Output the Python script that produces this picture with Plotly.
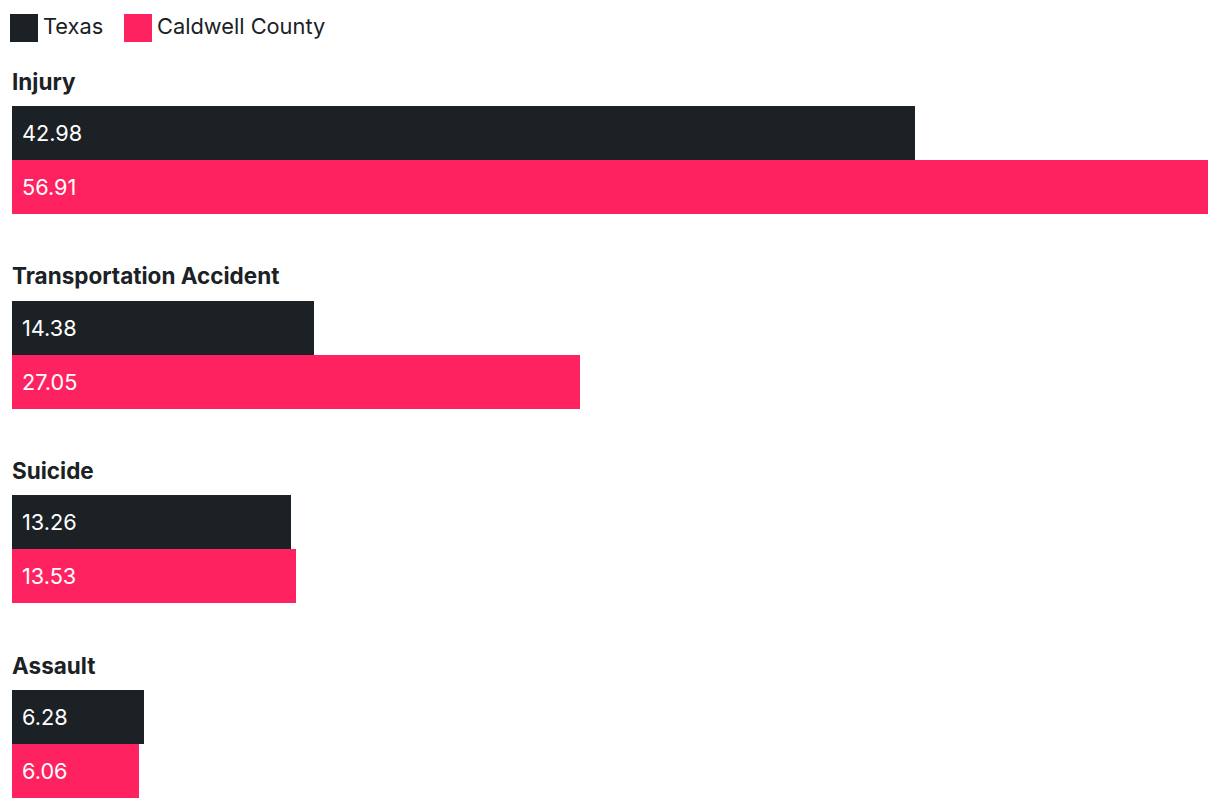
import plotly.graph_objects as go

categories = ["Injury", "Transportation Accident", "Suicide", "Assault"]
texas = [42.98, 14.38, 13.26, 6.28]
caldwell = [56.91, 27.05, 13.53, 6.06]
series_names = ["Texas", "Caldwell County"]
colors = ["#1b2125", "#ff2261"]

W, H = 1220, 808
ML, MR = 12, 12
first_top = 106
spacing = 194.67
bar_h = 54
xmax = max(max(texas), max(caldwell))

def px2paper(px):
    return (px - ML) / (W - ML - MR)

fig = go.Figure()
tex_y, cal_y = [], []
for i in range(len(categories)):
    top = first_top + i * spacing
    tex_y.append(top + bar_h / 2)
    cal_y.append(top + bar_h * 1.5)

for vals, ys, name, col in [(texas, tex_y, series_names[0], colors[0]),
                            (caldwell, cal_y, series_names[1], colors[1])]:
    fig.add_trace(go.Bar(x=vals, y=ys, orientation="h", width=bar_h,
                         marker=dict(color=col, line=dict(width=0)),
                         name=name, showlegend=False, hoverinfo="x+name"))

annotations = []
for i, cat in enumerate(categories):
    top = first_top + i * spacing
    annotations.append(dict(x=0, y=top - 25, xref="x", yref="y", text="<b>%s</b>" % cat,
                            showarrow=False, xanchor="left", yanchor="middle", xshift=-2,
                            font=dict(family="Inter", size=22.5, color="#1b2125")))
    for vals, ys in [(texas, tex_y), (caldwell, cal_y)]:
        annotations.append(dict(x=0, y=ys[i], xref="x", yref="y", text="%.2f" % vals[i],
                                showarrow=False, xanchor="left", yanchor="middle", xshift=8,
                                font=dict(family="Inter", size=21.7, color="#ffffff")))

shapes = []
legend_x = [10, 124]
for lx, name, col in zip(legend_x, series_names, colors):
    shapes.append(dict(type="rect", xref="paper", yref="y",
                       x0=px2paper(lx), x1=px2paper(lx + 28), y0=14, y1=42,
                       fillcolor=col, line=dict(width=0)))
    annotations.append(dict(x=px2paper(lx + 31), y=26, xref="paper", yref="y", text=name,
                            showarrow=False, xanchor="left", yanchor="middle",
                            font=dict(family="Inter", size=21.8, color="#1b2125")))

fig.update_layout(
    width=W, height=H,
    margin=dict(l=ML, r=MR, t=0, b=0, pad=0),
    paper_bgcolor="white", plot_bgcolor="white",
    xaxis=dict(range=[0, xmax], visible=False, fixedrange=True),
    yaxis=dict(range=[H, 0], visible=False, fixedrange=True),
    bargap=0, showlegend=False,
    annotations=annotations, shapes=shapes,
)

fig.write_html("out.html")
